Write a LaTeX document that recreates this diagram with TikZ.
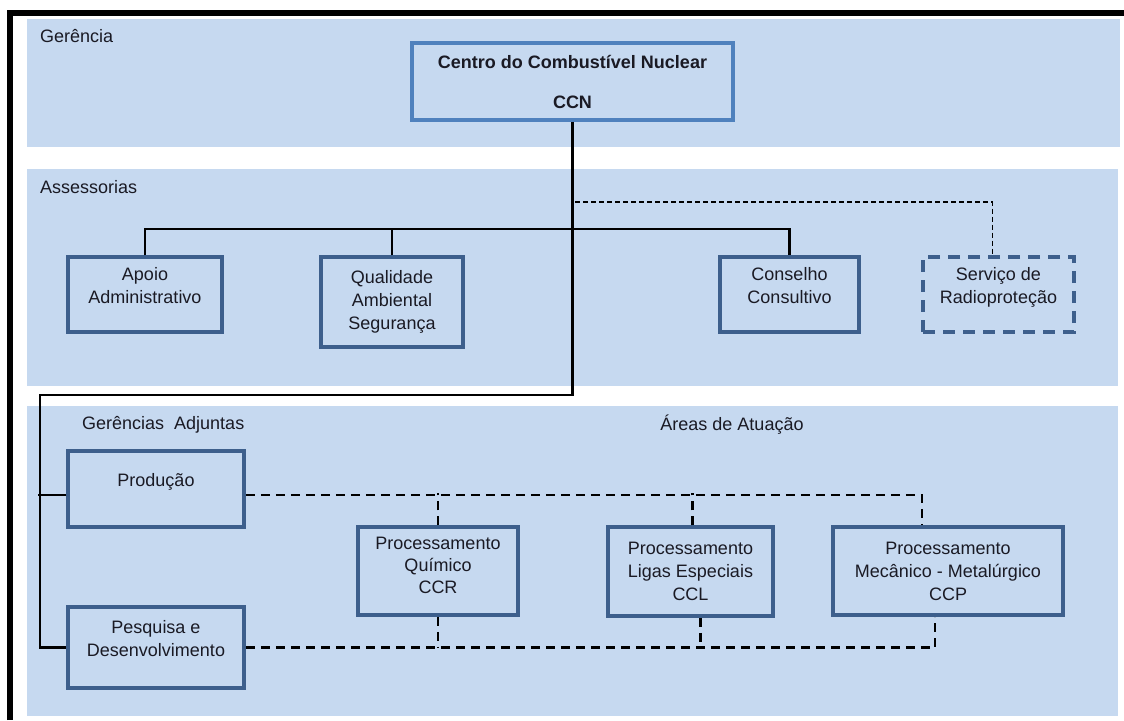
\documentclass[tikz,border=0pt]{standalone}
\usepackage{fontspec}
\setmainfont{Liberation Sans}
\definecolor{BandClr}{HTML}{C6D9F0}
\definecolor{BoxClr}{HTML}{3D5F8C}
\definecolor{TopClr}{HTML}{4F81BD}
\definecolor{TxtClr}{HTML}{1A1A24}

\begin{document}
\begin{tikzpicture}[x=1pt,y=-1pt,
  font=\fontsize{18}{23}\selectfont,
  band/.style={fill=BandClr,draw=none},
  orgbox/.style={draw=BoxClr,line width=3.5pt,inner sep=0pt,align=center,text=TxtClr},
  raised/.style={text depth=19pt},
  tag/.style={anchor=west,inner sep=0pt,text=TxtClr},
  link/.style={line width=2.2pt,black},
  dlink/.style={line width=2.6pt,black,dash pattern=on 9pt off 6pt},
  thinlink/.style={line width=1.2pt,black,dash pattern=on 5pt off 3pt}]
\useasboundingbox (0,0) rectangle (1124,720);

% bands
\fill[band] (27,19) rectangle (1120,147);
\fill[band] (27,169) rectangle (1118,386);
\fill[band] (27,406) rectangle (1118,716);

\draw[line width=6pt] (10,720) -- (10,13) -- (1124,13);

\node[tag] (LGer) at (40,36) {Gerência};
\node[tag] (LAss) at (40,187) {Assessorias};
\node[tag] (LAdj) at (82,425) {Gerências~~Adjuntas};
\node[text=TxtClr,inner sep=0pt] (LAre) at (732,425) {Áreas de Atuação};

% top
\node[orgbox,draw=TopClr,minimum width=321,minimum height=77,font=\fontsize{18}{23}\selectfont\bfseries]
  (CCN) at (572.5,81.5) {Centro do Combustível Nuclear\\[17pt]CCN};

% assessorias
\node[orgbox,raised,minimum width=154,minimum height=75] (Apoio) at (145,294.5) {Apoio\\Administrativo};
\node[orgbox,minimum width=142,minimum height=90] (Qual) at (392,302) {Qualidade\\Ambiental\\Segurança};
\node[orgbox,raised,minimum width=139,minimum height=75] (Cons) at (789.5,294.5) {Conselho\\Consultivo};
\node[orgbox,raised,dash pattern=on 12pt off 8pt,minimum width=151,minimum height=75] (Radio) at (998.5,294.5) {Serviço de\\Radioproteção};

% gerencias adjuntas
\node[orgbox,raised,minimum width=176,minimum height=76] (Prod) at (156,489) {Produção};
\node[orgbox,raised,minimum width=176,minimum height=81] (PD) at (156,647.5) {Pesquisa e\\Desenvolvimento};

% areas
\node[orgbox,text depth=11pt,font=\fontsize{18}{22}\selectfont,minimum width=160,minimum height=88] (CCR) at (438,571) {Processamento\\Químico\\CCR};
\node[orgbox,minimum width=165,minimum height=89] (CCL) at (690.5,571.5) {Processamento\\Ligas Especiais\\CCL};
\node[orgbox,minimum width=230,minimum height=88] (CCP) at (948,571) {Processamento\\Mecânico - Metalúrgico\\CCP};

\coordinate (Bend) at (40,395);
\coordinate (ABar) at (575,229);
\coordinate (RBar) at (575,202);

\draw[link] (CCN.south) |- (Bend) |- (PD.west);
\draw[link] ([yshift=-6pt]Prod.west) -- ++(-28,0);
\draw[link] (Apoio.north) |- (ABar) -| (Cons.north);
\draw[link] (Qual.north) -- (Qual.north |- ABar);
\draw[thinlink] (RBar) -| ([xshift=-6pt]Radio.north);

\draw[dlink] ([yshift=-6pt]Prod.east) -| ([xshift=-26pt]CCP.north);
\draw[dlink] (CCR.north) -- ++(0,-32);
\draw[dlink] ([xshift=2pt]CCL.north) -- ++(0,-32);
\draw[dlink] (PD.east) -| ([xshift=-13pt]CCP.south);
\draw[dlink] (CCR.south) -- (CCR.south |- PD.east);
\draw[dlink] ([xshift=10pt]CCL.south) -- ++(0,31);

\end{tikzpicture}
\end{document}
